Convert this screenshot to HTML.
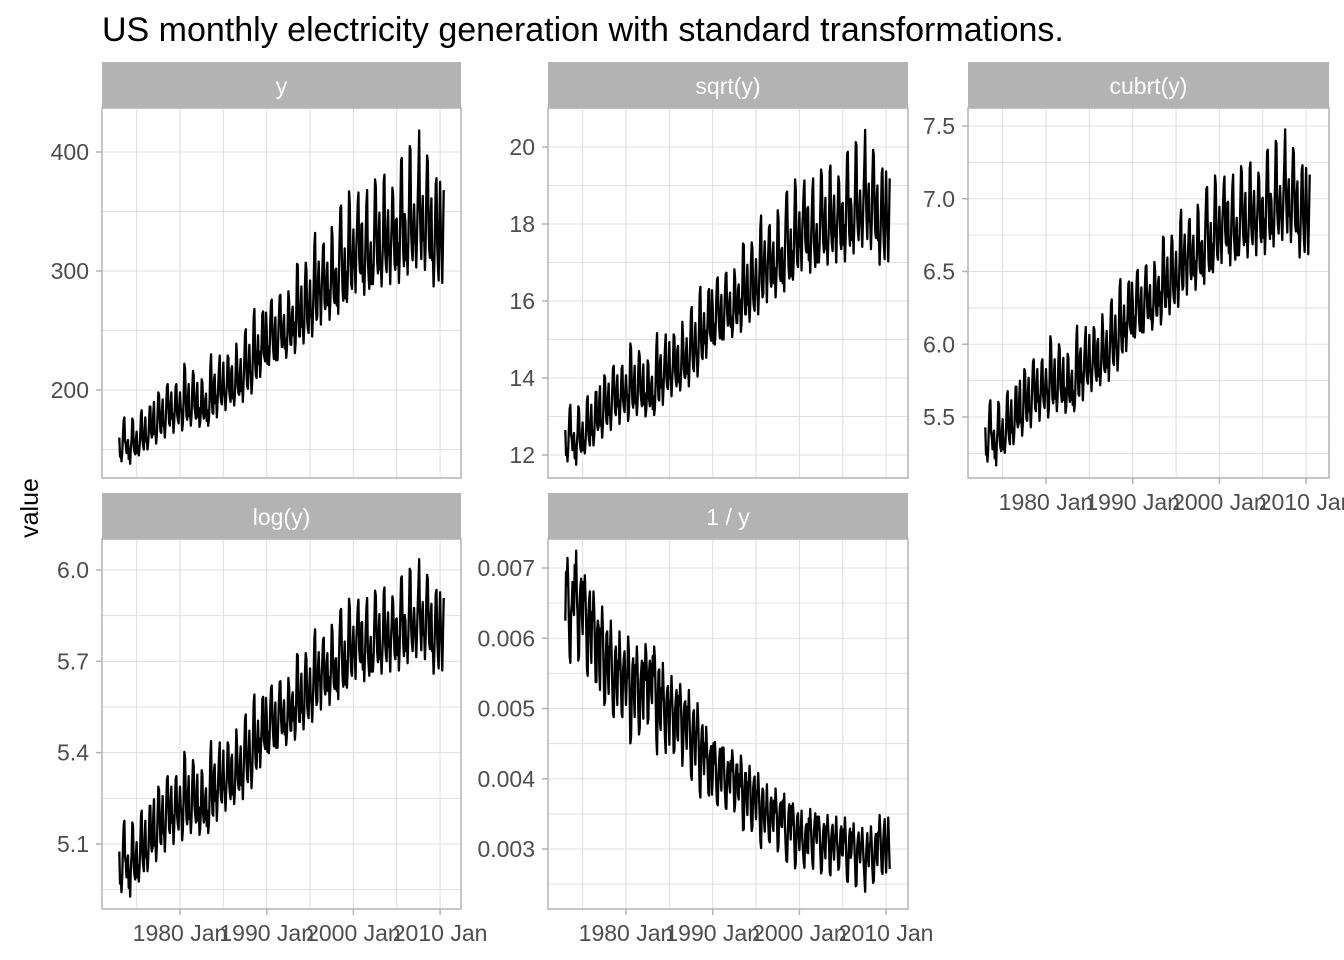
<!DOCTYPE html>
<html><head><meta charset="utf-8">
<style>
html,body{margin:0;padding:0;background:#fff;}
svg{display:block;font-family:"Liberation Sans",sans-serif;}
</style></head>
<body>
<svg id="chart" width="1344" height="960" viewBox="0 0 1344 960">
<text x="102" y="41" font-size="34" fill="#000">US monthly electricity generation with standard transformations.</text>
<text transform="translate(38,508) rotate(-90)" text-anchor="middle" font-size="25" fill="#000">value</text>
</svg>
<script>
const startYear = 1973;
const values = [
160,144,148,140,147,161,174,177,157,154,147,155,
158,142,150,138,152,158,176,174,152,148,146,158,
165,147,153,145,152,163,180,183,158,153,150,166,
177,157,160,150,156,170,186,186,164,160,162,180,
190,163,165,155,163,180,198,196,176,165,164,182,
192,170,171,160,172,188,203,205,185,172,170,188,
198,176,180,164,174,187,203,205,180,175,172,187,
198,185,182,166,172,191,222,218,192,178,175,193,
205,178,182,170,179,201,216,212,186,181,176,195,
206,177,185,169,173,184,209,206,181,176,178,192,
197,174,183,170,175,192,219,230,195,181,180,208,
213,189,195,177,190,205,219,229,196,190,188,205,
223,196,196,183,196,207,229,227,201,194,190,217,
220,193,198,187,196,214,239,226,203,197,196,215,
226,199,206,190,207,225,247,251,215,203,201,221,
238,215,214,197,208,232,261,268,224,212,210,231,
246,222,232,211,225,240,264,266,231,227,224,265,
251,222,237,221,232,258,274,276,246,234,226,249,
261,225,238,225,245,263,279,280,246,236,238,255,
263,235,243,227,235,254,283,275,248,238,238,265,
270,246,257,231,239,268,306,305,260,245,245,270,
287,253,256,239,254,289,307,301,259,251,248,275,
292,262,263,245,264,287,321,332,272,259,262,293,
308,281,282,255,283,300,321,323,274,268,273,298,
307,271,284,259,273,294,337,330,292,277,273,300,
302,271,289,264,300,329,353,355,309,284,275,300,
319,277,299,274,289,325,367,357,306,289,285,313,
335,303,304,282,319,336,357,366,312,300,298,339,
340,291,304,280,303,330,356,368,309,296,285,312,
324,289,305,289,305,340,377,371,328,307,298,330,
349,301,306,287,307,326,375,381,317,305,299,336,
351,317,311,289,320,338,370,364,327,306,301,343,
344,305,323,290,311,354,393,395,343,315,304,348,
341,309,322,297,324,357,405,402,331,317,309,339,
356,333,321,303,328,358,385,418,354,328,310,348,
363,326,328,301,322,368,397,392,341,317,311,348,
361,309,314,287,307,338,373,378,323,304,292,341,
375,332,317,290,326,368
];
const xTickYears = [1980,1990,2000,2010];
const xTickLabels = ["1980 Jan","1990 Jan","2000 Jan","2010 Jan"];
const panelTitles = ["y","sqrt(y)","cubrt(y)","log(y)","1 / y"];
const tickY0 = [200,300,400];
const tickY1 = [12,14,16,18,20];
const tickY2 = [5.5,6.0,6.5,7.0,7.5];
const tickY3 = [5.1,5.4,5.7,6.0];
const tickY4 = [0.003,0.004,0.005,0.006,0.007];
const tickLabels0 = ["200","300","400"];
const tickLabels1 = ["12","14","16","18","20"];
const tickLabels2 = ["5.5","6.0","6.5","7.0","7.5"];
const tickLabels3 = ["5.1","5.4","5.7","6.0"];
const tickLabels4 = ["0.003","0.004","0.005","0.006","0.007"];

const NS="http://www.w3.org/2000/svg";
const svg=document.getElementById('chart');
function mk(tag,attrs,parent){const e=document.createElementNS(NS,tag);for(const k in attrs)e.setAttribute(k,attrs[k]);(parent||svg).appendChild(e);return e;}

const transforms=[v=>v,v=>Math.sqrt(v),v=>Math.cbrt(v),v=>Math.log(v),v=>1/v];
const panels=[
 {l:102,st:62,pt:108,pb:478,w:359,ya:[400,152],yb:[200,390],ticks:tickY0,labs:tickLabels0,xl:false},
 {l:548,st:62,pt:108,pb:478,w:360,ya:[20,147],yb:[12,455],ticks:tickY1,labs:tickLabels1,xl:false},
 {l:968,st:62,pt:108,pb:478,w:361,ya:[7.5,126],yb:[5.5,417],ticks:tickY2,labs:tickLabels2,xl:true},
 {l:102,st:493,pt:539,pb:909,w:359,ya:[6.0,570],yb:[5.1,844],ticks:tickY3,labs:tickLabels3,xl:true},
 {l:548,st:493,pt:539,pb:909,w:360,ya:[0.007,568],yb:[0.003,849],ticks:tickY4,labs:tickLabels4,xl:true}
];
const pxPerYear=8.67;
panels.forEach((p,i)=>{
 const g=mk('g',{});
 
 
 const xs=t=>p.l+78+(t-1980)*pxPerYear;
 const k=(p.yb[1]-p.ya[1])/(p.yb[0]-p.ya[0]);
 const ys=v=>p.ya[1]+(v-p.ya[0])*k;
 const r=p.l+p.w;
 const step=p.ticks[1]-p.ticks[0];
 const allY=[p.ticks[0]-step/2].concat(p.ticks.flatMap(t=>[t,t+step/2]));
 allY.forEach(t=>{const y=ys(t);if(y>p.pt&&y<p.pb){const ln=mk('line',{x1:p.l,x2:r,y1:y,y2:y,stroke:'#e0e0e0','stroke-width':1},g);}});
 const allX=[1975].concat(xTickYears.flatMap(t=>[t,t+5]));
 allX.forEach(t=>{const x=xs(t);if(x>p.l&&x<r){const ln=mk('line',{x1:x,x2:x,y1:p.pt,y2:p.pb,stroke:'#dedede','stroke-width':1},g);}});
 let d='';
 values.forEach((v,j)=>{const t=startYear+j/12;d+=(j?'L':'M')+xs(t).toFixed(2)+','+ys(transforms[i](v)).toFixed(2);});
 const path=mk('path',{d:d,fill:'none',stroke:'#000','stroke-width':2.3,'stroke-linejoin':'round'},g);
 
 
 const b=mk('rect',{x:p.l,y:p.pt,width:p.w,height:p.pb-p.pt,fill:'none',stroke:'#b3b3b3','stroke-width':1.5},g);
 
 
 const s=mk('rect',{x:p.l,y:p.st,width:p.w,height:p.pt-p.st,fill:'#b3b3b3'},g);
 
 
 const st=mk('text',{x:p.l+p.w/2,y:p.st+32,'text-anchor':'middle','font-size':23,fill:'#fff'},g);
 st.textContent=panelTitles[i];
 
 
 p.ticks.forEach((t,j)=>{const y=ys(t);
  const tk=mk('line',{x1:p.l-6,x2:p.l,y1:y,y2:y,stroke:'#b3b3b3','stroke-width':1.5},g);
  
  
  const tx=mk('text',{x:p.l-13,y:y+8,'text-anchor':'end','font-size':23,fill:'#4d4d4d'},g);
  tx.textContent=p.labs[j];
  
  
 });
 if(p.xl){xTickYears.forEach((t,j)=>{const x=xs(t);
  const tk=mk('line',{x1:x,x2:x,y1:p.pb,y2:p.pb+6,stroke:'#b3b3b3','stroke-width':1.5},g);
  
  
  const tx=mk('text',{x:x,y:p.pb+32,'text-anchor':'middle','font-size':23,fill:'#4d4d4d'},g);
  tx.textContent=xTickLabels[j];
  
  
 });}
});
</script>
</body></html>
